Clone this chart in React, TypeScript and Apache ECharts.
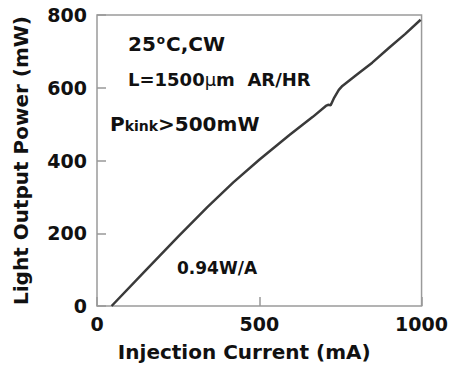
import React, { useEffect, useRef } from "react";
import * as echarts from "echarts";

const currentMA = [45, 150, 250, 340, 420, 500, 593, 665, 705, 712, 720, 731, 745, 756, 802, 848, 900, 950, 997];
const powerMW = [0, 98, 191, 272, 340, 402, 470, 520, 550, 553, 552, 573, 594, 605, 637, 669, 710, 748, 787];
const xTitle = "Injection Current (mA)";
const yTitle = "Light Output Power (mW)";

const FONT = "DejaVu Sans";

export default function App() {
  const ref = useRef<HTMLDivElement>(null);
  useEffect(() => {
    if (!ref.current) return;
    const chart = echarts.init(ref.current, null, { renderer: "svg" });
    const data = currentMA.map((c, i) => [c, powerMW[i]]);
    chart.setOption({
      animation: false,
      backgroundColor: "#fff",
      grid: {
        left: 97,
        right: 28,
        top: 15,
        bottom: 62,
        show: true,
        borderColor: "#9a9a9a",
        borderWidth: 1.5,
      },
      xAxis: {
        type: "value",
        min: 0,
        max: 1000,
        interval: 500,
        name: xTitle,
        nameLocation: "middle",
        nameGap: 36,
        nameTextStyle: {
          fontFamily: FONT,
          fontWeight: "bold",
          fontSize: 20,
          color: "#111",
          padding: [0, 30, 0, 0],
        },
        axisLine: { show: false },
        axisTick: { inside: true, length: 9, lineStyle: { color: "#999", width: 1.5 } },
        splitLine: { show: false },
        axisLabel: {
          fontFamily: FONT,
          fontWeight: "bold",
          fontSize: 19,
          color: "#111",
          margin: 8,
          formatter: (v: number) => String(v),
        },
      },
      yAxis: {
        type: "value",
        min: 0,
        max: 800,
        interval: 200,
        name: yTitle,
        nameLocation: "middle",
        nameGap: 66,
        nameTextStyle: { fontFamily: FONT, fontWeight: "bold", fontSize: 20, color: "#111" },
        axisLine: { show: false },
        axisTick: { inside: true, length: 9, lineStyle: { color: "#999", width: 1.5 } },
        splitLine: { show: false },
        axisLabel: {
          fontFamily: FONT,
          fontWeight: "bold",
          fontSize: 19,
          color: "#111",
          margin: 10,
          formatter: (v: number) => String(v),
        },
      },
      series: [
        {
          type: "line",
          data,
          showSymbol: false,
          lineStyle: { color: "#3a3a3a", width: 2.5 },
        },
      ],
      graphic: [
        {
          type: "text",
          left: 128,
          top: 34,
          style: {
            text: "25{sup|o}C,CW",
            fontFamily: FONT,
            fontWeight: "bold",
            fontSize: 20,
            fill: "#111",
            rich: {
              sup: { fontFamily: FONT, fontWeight: "bold", fontSize: 12, verticalAlign: "top", fill: "#111", padding: [0, 1, 8, 1] },
            },
          },
        },
        {
          type: "text",
          left: 128,
          top: 70,
          style: {
            text: "L=1500{mu|μ}m  AR/HR",
            fontFamily: FONT,
            fontWeight: "bold",
            fontSize: 18,
            fill: "#111",
            rich: {
              mu: { fontFamily: FONT, fontWeight: "normal", fontSize: 18, fill: "#111" },
            },
          },
        },
        {
          type: "text",
          left: 110,
          top: 114,
          style: {
            text: "{big|P}{small|kink}{big|>500mW}",
            fill: "#111",
            rich: {
              big: { fontFamily: FONT, fontWeight: "bold", fontSize: 20, fill: "#111", verticalAlign: "bottom" },
              small: { fontFamily: FONT, fontWeight: "bold", fontSize: 14, fill: "#111", verticalAlign: "bottom", padding: [0, 0, 1, 0] },
            },
          },
        },
        {
          type: "text",
          left: 177,
          top: 259,
          style: {
            text: "0.94W/A",
            fontFamily: FONT,
            fontWeight: "bold",
            fontSize: 17,
            fill: "#111",
          },
        },
      ],
    });
    return () => chart.dispose();
  }, []);
  return <div ref={ref} style={{ width: 451, height: 368, position: "absolute", left: 0, top: 0 }} />;
}
